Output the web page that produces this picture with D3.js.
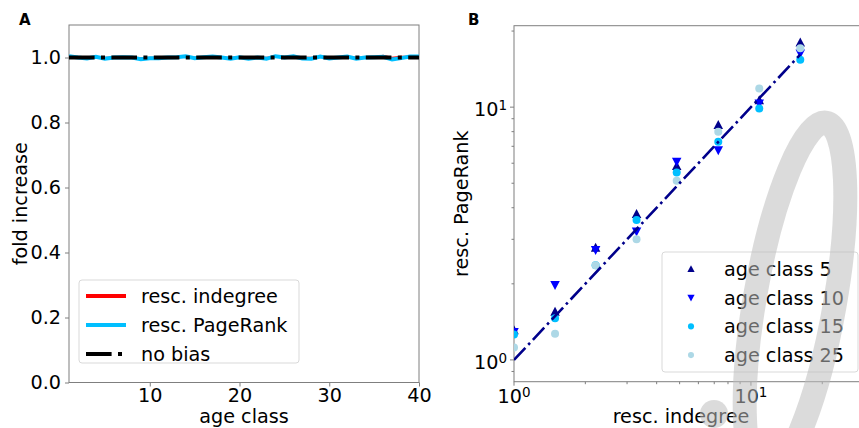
<!DOCTYPE html>
<html>
<head>
<meta charset="utf-8">
<script src="https://cdn.jsdelivr.net/npm/d3@7"></script>
<style>
  body { margin: 0; background: #fff; }
  svg { font-family: "DejaVu Sans", sans-serif; }
</style>
</head>
<body>
<svg id="chart" width="859" height="428"></svg>
<script>
// Panel A data: fold increase per age class
const ageClasses = d3.range(1, 41);
const indegreeFold = [1.002, 1.000, 0.999, 1.001, 0.999, 1.000, 1.001, 1.000, 0.998, 0.999,
  0.999, 1.000, 1.001, 1.002, 0.999, 1.001, 1.002, 1.000, 0.999, 1.001,
  0.999, 1.000, 0.999, 1.002, 1.000, 1.003, 0.999, 0.999, 1.002, 0.999,
  1.000, 1.002, 0.999, 1.000, 1.001, 1.005, 0.999, 1.002, 1.002, 1.003];
const pagerankFold = [1.004, 1.000, 0.997, 1.002, 0.996, 1.000, 1.001, 1.000, 0.995, 0.998,
  0.998, 1.000, 1.001, 1.004, 0.998, 1.001, 1.003, 1.000, 0.996, 1.001,
  0.996, 1.000, 0.996, 1.004, 1.000, 1.004, 0.997, 0.996, 1.003, 0.997,
  1.000, 1.003, 0.996, 1.000, 1.001, 1.002, 0.994, 0.998, 1.003, 1.003];

// Panel B data: resc. PageRank vs resc. indegree
const rescIndegree = [1.0, 1.49, 2.21, 3.29, 4.86, 7.28, 10.84, 16.15];
const ageClass5  = [1.31, 1.55, 2.78, 3.78, 5.85, 8.49, 10.66, 18.0];
const ageClass10 = [1.29, 1.98, 2.72, 3.22, 6.08, 6.76, 10.34, 16.3];
const ageClass15 = [1.26, 1.46, 2.37, 3.58, 5.52, 7.29, 9.88, 15.4];
const ageClass25 = [1.12, 1.27, 2.37, 3.00, 5.11, 7.99, 11.86, 17.1];

const svg = d3.select('#chart');
const spine = '#7f7f7f';
const fs = 19.2;

// ---------- Panel A ----------
const A = { l: 69, r: 419, t: 25, b: 382.5 };
const xA = d3.scaleLinear().domain([1, 40]).range([A.l, A.r]);
const yA = d3.scaleLinear().domain([0, 1.1]).range([A.b, A.t]);

const gA = svg.append('g');

function styleAxis(g) {
  g.select('.domain').remove();
  g.selectAll('.tick line').attr('stroke', spine);
  g.selectAll('.tick text').attr('fill', '#000').style('font-size', fs + 'px')
    .style('font-family', '"DejaVu Sans", sans-serif');
}

gA.append('g').attr('transform', `translate(0,${A.b})`)
  .call(d3.axisBottom(xA).tickValues([10, 20, 30, 40]).tickSize(4).tickPadding(1.5))
  .call(styleAxis);
gA.append('g').attr('transform', `translate(${A.l},0)`)
  .call(d3.axisLeft(yA).tickValues([0, 0.2, 0.4, 0.6, 0.8, 1.0]).tickFormat(d3.format('.1f')).tickSize(4).tickPadding(4))
  .call(styleAxis);

gA.append('rect').attr('x', A.l).attr('y', A.t).attr('width', A.r - A.l).attr('height', A.b - A.t)
  .attr('fill', 'none').attr('stroke', spine).attr('stroke-width', 1);

svg.append('clipPath').attr('id', 'clipA').append('rect')
  .attr('x', A.l).attr('y', A.t).attr('width', A.r - A.l).attr('height', A.b - A.t);

const lineA = vals => d3.line().x((d, i) => xA(ageClasses[i])).y(d => yA(d))(vals);
const plotA = gA.append('g').attr('clip-path', 'url(#clipA)');
plotA.append('path').attr('d', lineA(indegreeFold)).attr('fill', 'none').attr('stroke', '#ff0000').attr('stroke-width', 2);
plotA.append('path').attr('d', lineA(pagerankFold)).attr('fill', 'none').attr('stroke', '#00bfff').attr('stroke-width', 4);
plotA.append('path').attr('d', lineA(ageClasses.map(() => 1))).attr('fill', 'none').attr('stroke', '#000')
  .attr('stroke-width', 4).attr('stroke-dasharray', '25.6,6.4,4,6.4');

// legend A
const legA = gA.append('g');
legA.append('rect').attr('x', 79).attr('y', 280).attr('width', 220).attr('height', 83).attr('rx', 3)
  .attr('fill', '#fff').attr('fill-opacity', 0.8).attr('stroke', '#d9d9d9');
const legAItems = [
  { label: 'resc. indegree', color: '#ff0000', w: 4, dash: null },
  { label: 'resc. PageRank', color: '#00bfff', w: 4, dash: null },
  { label: 'no bias', color: '#000', w: 4, dash: '25.6,6.4,4,6.4' }
];
legAItems.forEach((d, i) => {
  const y = 296 + i * 29;
  legA.append('line').attr('x1', 86).attr('x2', 126).attr('y1', y).attr('y2', y)
    .attr('stroke', d.color).attr('stroke-width', d.w).attr('stroke-dasharray', d.dash);
  legA.append('text').attr('x', 141).attr('y', y).attr('dy', '0.36em').style('font-size', fs + 'px').text(d.label);
});

gA.append('text').attr('x', 19).attr('y', 25).style('font-size', '15px').style('font-weight', 'bold').text('A');
gA.append('text').attr('transform', `translate(27,${(A.t + A.b) / 2}) rotate(-90)`).attr('text-anchor', 'middle')
  .style('font-size', fs + 'px').text('fold increase');
gA.append('text').attr('x', (A.l + A.r) / 2).attr('y', 423).attr('text-anchor', 'middle')
  .style('font-size', fs + 'px').text('age class');

// ---------- Panel B ----------
const B = { l: 514, r: 864, t: 25.7, b: 381.7 };
const xB = d3.scaleLog().domain([1, 30]).range([B.l, B.r]);
const yB = d3.scaleLog().domain([0.82, 21]).range([B.b, B.t]);
const gB = svg.append('g');

// minor ticks
const xMinor = [2, 3, 4, 5, 6, 7, 8, 9, 20, 30];
const yMinor = [0.9, 2, 3, 4, 5, 6, 7, 8, 9, 20];
gB.selectAll('.xminor').data(xMinor).join('line')
  .attr('x1', d => xB(d)).attr('x2', d => xB(d)).attr('y1', B.b).attr('y2', B.b + 2.5).attr('stroke', spine);
gB.selectAll('.yminor').data(yMinor).join('line')
  .attr('y1', d => yB(d)).attr('y2', d => yB(d)).attr('x1', B.l).attr('x2', B.l - 2.5).attr('stroke', spine);

// major ticks
const majors = [1, 10];
gB.selectAll('.xmajor').data(majors).join('line')
  .attr('x1', d => xB(d)).attr('x2', d => xB(d)).attr('y1', B.b).attr('y2', B.b + 4).attr('stroke', spine);
gB.selectAll('.ymajor').data(majors).join('line')
  .attr('y1', d => yB(d)).attr('y2', d => yB(d)).attr('x1', B.l).attr('x2', B.l - 4).attr('stroke', spine);

function powLabel(sel, exp) {
  sel.append('tspan').text('10');
  sel.append('tspan').attr('dy', '-0.45em').style('font-size', '13.5px').text(exp);
}
majors.forEach((d, i) => {
  const tx = gB.append('text').attr('x', xB(d)).attr('y', 403).attr('text-anchor', 'middle').style('font-size', fs + 'px');
  powLabel(tx, String(i));
  const ty = gB.append('text').attr('x', B.l - 7).attr('y', yB(d) + 9).attr('text-anchor', 'end').style('font-size', fs + 'px');
  powLabel(ty, String(i));
});

gB.append('rect').attr('x', B.l).attr('y', B.t).attr('width', B.r - B.l).attr('height', B.b - B.t)
  .attr('fill', 'none').attr('stroke', spine).attr('stroke-width', 1);

svg.append('clipPath').attr('id', 'clipB').append('rect')
  .attr('x', B.l).attr('y', B.t).attr('width', B.r - B.l).attr('height', B.b - B.t);
const plotB = gB.append('g').attr('clip-path', 'url(#clipB)');

const triUp = s => `M0,${-s}L${s * 0.95},${s * 0.8}L${-s * 0.95},${s * 0.8}Z`;
const triDown = s => `M0,${s}L${s * 0.95},${-s * 0.8}L${-s * 0.95},${-s * 0.8}Z`;

const seriesB = [
  { label: 'age class 5', vals: ageClass5, color: '#00008b', shape: 'up' },
  { label: 'age class 10', vals: ageClass10, color: '#0000ff', shape: 'down' },
  { label: 'age class 15', vals: ageClass15, color: '#00bfff', shape: 'circle' },
  { label: 'age class 25', vals: ageClass25, color: '#add8e6', shape: 'circle' }
];

function marker(g, shape, color, x, y, s) {
  if (shape === 'circle') {
    g.append('circle').attr('cx', x).attr('cy', y).attr('r', s * 0.8).attr('fill', color);
  } else {
    g.append('path').attr('transform', `translate(${x},${y})`)
      .attr('d', shape === 'up' ? triUp(s) : triDown(s)).attr('fill', color);
  }
}

seriesB.forEach(s => {
  s.vals.forEach((v, i) => marker(plotB, s.shape, s.color, xB(rescIndegree[i]), yB(v), 5));
});

// no-bias reference line y = x
plotB.append('path')
  .attr('d', d3.line().x(d => xB(d)).y(d => yB(d))([rescIndegree[0], rescIndegree[rescIndegree.length - 1]]))
  .attr('stroke', '#00008b').attr('stroke-width', 2.6).attr('fill', 'none')
  .attr('stroke-dasharray', '16.6,4.2,2.6,4.2');

// legend B
const legB = gB.append('g');
legB.append('rect').attr('x', 662).attr('y', 252).attr('width', 196).attr('height', 120).attr('rx', 3)
  .attr('fill', '#fff').attr('fill-opacity', 0.8).attr('stroke', '#d9d9d9');
seriesB.forEach((s, i) => {
  const y = 269 + i * 28.7;
  marker(legB, s.shape, s.color, 691, y, 3.8);
  legB.append('text').attr('x', 724).attr('y', y).attr('dy', '0.36em').style('font-size', fs + 'px').text(s.label);
});

gB.append('text').attr('x', 468).attr('y', 25).style('font-size', '15px').style('font-weight', 'bold').text('B');
gB.append('text').attr('transform', `translate(468,${(B.t + B.b) / 2}) rotate(-90)`).attr('text-anchor', 'middle')
  .style('font-size', fs + 'px').text('resc. PageRank');
gB.append('text').attr('x', (B.l + B.r) / 2 - 8).attr('y', 423).attr('text-anchor', 'middle')
  .style('font-size', fs + 'px').text('resc. indegree');

// grey watermark loop laid over panel B
const wm = svg.append('g').attr('fill', 'none').attr('stroke', '#bdbdbd').attr('stroke-opacity', 0.55);
wm.append('ellipse').attr('cx', 0).attr('cy', 0).attr('rx', 40).attr('ry', 180)
  .attr('transform', 'translate(795,300) rotate(10)').attr('stroke-width', 24);
wm.append('circle').attr('cx', 714).attr('cy', 414).attr('r', 14)
  .attr('fill', '#bdbdbd').attr('fill-opacity', 0.55).attr('stroke', 'none');
</script>
</body>
</html>
